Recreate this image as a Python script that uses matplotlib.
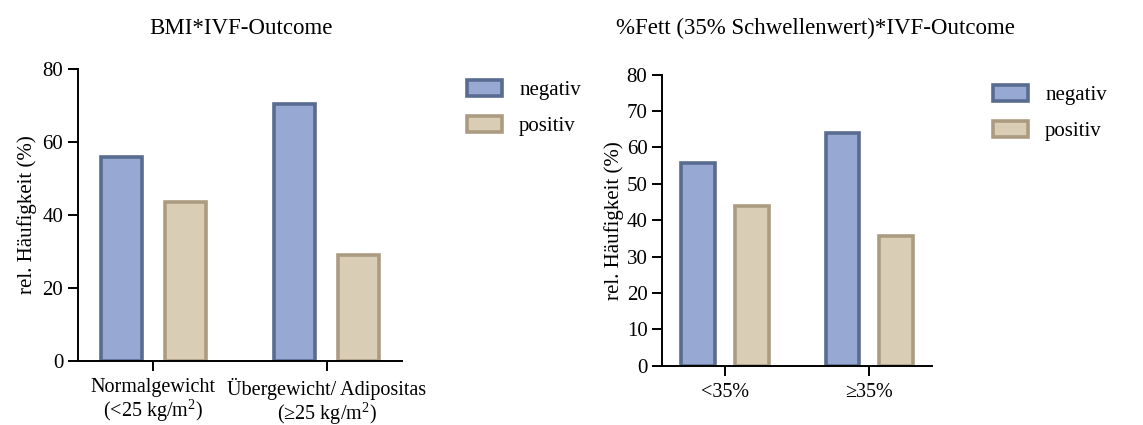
import numpy as np
import matplotlib.pyplot as plt
from matplotlib.patches import Patch

plt.rcParams['font.family'] = ['Liberation Serif', 'DejaVu Serif']
plt.rcParams['mathtext.fontset'] = 'custom'
plt.rcParams['mathtext.rm'] = 'Liberation Serif'
plt.rcParams['font.size'] = 15

## data of the two panels
bmi_groups = ["Normalgewicht\n(<25 kg/m$^{2}$)", "Übergewicht/ Adipositas\n(≥25 kg/m$^{2}$)"]
bmi_negativ = [55.8, 70.5]
bmi_positiv = [43.5, 29.0]

fett_groups = ["<35%", "≥35%"]
fett_negativ = [55.6, 64.1]
fett_positiv = [43.8, 35.6]

neg_fill, neg_edge = '#97a9d3', '#586b91'
pos_fill, pos_edge = '#dacdb5', '#ab9c81'


def draw_panel(ax, groups, neg, pos, ymax, ystep):
    x = np.arange(len(groups))
    w = 0.235
    ax.bar(x - 0.185, neg, w, color=neg_fill, edgecolor=neg_edge, linewidth=2.6, label='negativ')
    ax.bar(x + 0.185, pos, w, color=pos_fill, edgecolor=pos_edge, linewidth=2.6, label='positiv')
    ax.set_xlim(-0.435, 1.435)
    ax.set_ylim(0, ymax)
    ax.set_yticks(np.arange(0, ymax + 1, ystep))
    ax.set_xticks(x)
    ax.set_xticklabels(groups, fontsize=14.5, linespacing=0.98)
    ax.spines['top'].set_visible(False)
    ax.spines['right'].set_visible(False)
    ax.spines['left'].set_linewidth(1.4)
    ax.spines['bottom'].set_linewidth(1.4)
    ax.tick_params(axis='y', length=7.5, width=1.4, pad=3, labelsize=15)
    ax.tick_params(axis='x', length=7.5, width=1.4, pad=5)
    ax.set_ylabel("rel. Häufigkeit (%)", fontsize=15, labelpad=4)


fig = plt.figure(figsize=(11.43, 4.25), dpi=100)
ax1 = fig.add_axes([0.0682, 0.1506, 0.2835, 0.687])
ax2 = fig.add_axes([0.5792, 0.1395, 0.2362, 0.6847])

draw_panel(ax1, bmi_groups, bmi_negativ, bmi_positiv, 80, 20)
draw_panel(ax2, fett_groups, fett_negativ, fett_positiv, 80, 10)
ax2.yaxis.labelpad = 2

fig.text(241 / 1143, 1 - 28 / 425, "BMI*IVF-Outcome", fontsize=16.5, ha='center', va='center')
fig.text(815 / 1143, 1 - 28 / 425, "%Fett (35% Schwellenwert)*IVF-Outcome", fontsize=16.5,
         ha='center', va='center')

handles = [Patch(facecolor=neg_fill, edgecolor=neg_edge, linewidth=2.6, label='negativ'),
           Patch(facecolor=pos_fill, edgecolor=pos_edge, linewidth=2.6, label='positiv')]
for ax, (lx, ly) in [(ax1, (467, 80)), (ax2, (993, 85))]:
    ax.legend(handles=handles, loc='upper left', bbox_to_anchor=(lx / 1143, 1 - ly / 425),
              bbox_transform=fig.transFigure, frameon=False, fontsize=15,
              handlelength=1.7, handleheight=0.8, labelspacing=0.75, handletextpad=0.8,
              borderpad=0, borderaxespad=0)

fig.savefig("out.png", dpi=100)
